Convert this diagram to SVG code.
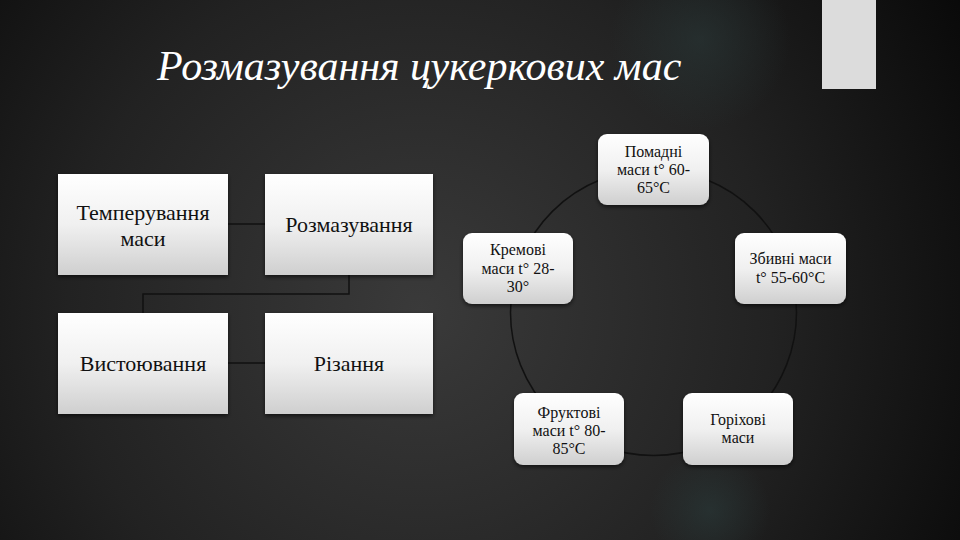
<svg xmlns="http://www.w3.org/2000/svg" width="960" height="540" viewBox="0 0 960 540">
<defs>
<radialGradient id="bg" cx="420" cy="310" r="640" gradientUnits="userSpaceOnUse">
<stop offset="0" stop-color="#3a3a3a"/>
<stop offset="0.55" stop-color="#222"/>
<stop offset="1" stop-color="#080808"/>
</radialGradient>
<radialGradient id="glow1" cx="700" cy="40" r="90" gradientUnits="userSpaceOnUse">
<stop offset="0" stop-color="#2a3838" stop-opacity="0.6"/>
<stop offset="1" stop-color="#2a3838" stop-opacity="0"/>
</radialGradient>
<radialGradient id="glow2" cx="710" cy="510" r="60" gradientUnits="userSpaceOnUse">
<stop offset="0" stop-color="#2a3a3a" stop-opacity="0.6"/>
<stop offset="1" stop-color="#2a3a3a" stop-opacity="0"/>
</radialGradient>
<linearGradient id="boxg" x1="0" y1="0" x2="0" y2="1">
<stop offset="0" stop-color="#ffffff"/>
<stop offset="0.5" stop-color="#f0f0f0"/>
<stop offset="1" stop-color="#cfcfcf"/>
</linearGradient>
<filter id="sh" x="-10%" y="-10%" width="120%" height="130%">
<feDropShadow dx="0" dy="2" stdDeviation="2" flood-color="#000" flood-opacity="0.6"/>
</filter>
</defs>
<style>
.box{fill:url(#boxg);filter:url(#sh)}
text{font-family:'Liberation Serif',serif}
.t{fill:#111;text-anchor:middle}
.big{font-size:22px}
.sm{font-size:16px}
.conn{fill:none;stroke:#111;stroke-width:1.5}
.title{font-style:italic;font-size:42px;fill:#fff}
</style>
<rect width="960" height="540" fill="url(#bg)"/>
<rect width="960" height="540" fill="url(#glow1)"/>
<rect width="960" height="540" fill="url(#glow2)"/>
<rect x="822" y="0" width="54" height="89" fill="#dcdcdc"/>
<text class="title" x="157" y="80">Розмазування цукеркових мас</text>

<g id="connectors">
<line class="conn" x1="228" y1="224" x2="265" y2="224"/>
<polyline class="conn" points="349,275 349,294 143,294 143,313"/>
<line class="conn" x1="228" y1="363" x2="265" y2="363"/>
<circle class="conn" cx="653.5" cy="312.5" r="143"/>
</g>

<g id="n1"><rect class="box" x="58" y="174" width="170" height="101"/>
<text class="t big" x="143" y="220">Темперування</text><text class="t big" x="143" y="246">маси</text></g>
<g id="n2"><rect class="box" x="265" y="174" width="168" height="101"/>
<text class="t big" x="349" y="232">Розмазування</text></g>
<g id="n3"><rect class="box" x="58" y="313" width="170" height="101"/>
<text class="t big" x="143" y="371">Вистоювання</text></g>
<g id="n4"><rect class="box" x="265" y="313" width="168" height="101"/>
<text class="t big" x="349" y="371">Різання</text></g>

<g id="c1"><rect class="box" x="598" y="134" width="111" height="71" rx="9"/>
<text class="t sm" x="653.5" y="157">Помадні</text><text class="t sm" x="653.5" y="175">маси t° 60-</text><text class="t sm" x="653.5" y="193">65°C</text></g>
<g id="c2"><rect class="box" x="735" y="233" width="111" height="71" rx="9"/>
<text class="t sm" x="790.5" y="264">Збивні маси</text><text class="t sm" x="790.5" y="283">t° 55-60°C</text></g>
<g id="c3"><rect class="box" x="683" y="393" width="110" height="72" rx="9"/>
<text class="t sm" x="738" y="425">Горіхові</text><text class="t sm" x="738" y="443">маси</text></g>
<g id="c4"><rect class="box" x="514" y="393" width="110" height="72" rx="9"/>
<text class="t sm" x="569" y="418">Фруктові</text><text class="t sm" x="569" y="436">маси t° 80-</text><text class="t sm" x="569" y="454">85°C</text></g>
<g id="c5"><rect class="box" x="463" y="233" width="110" height="71" rx="9"/>
<text class="t sm" x="518" y="255">Кремові</text><text class="t sm" x="518" y="274">маси t° 28-</text><text class="t sm" x="518" y="292">30°</text></g>
</svg>
